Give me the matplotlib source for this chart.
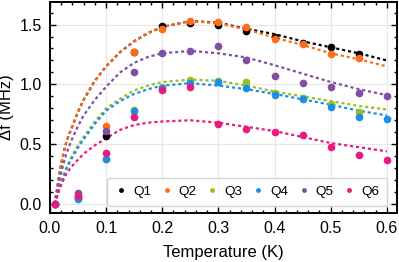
import matplotlib

matplotlib.use("Agg")

import matplotlib.pyplot as plt
import numpy as np
from matplotlib.ticker import MultipleLocator

plt.rcParams["font.family"] = ["Liberation Sans", "DejaVu Sans"]

# measured points
temps = [0.01, 0.05, 0.10, 0.15, 0.20, 0.25, 0.30, 0.35, 0.40, 0.45, 0.50, 0.55, 0.60]
nan = np.nan
q1 = [0.0, 0.05, 0.57, 1.27, 1.49, 1.51, 1.50, 1.45, 1.40, 1.35, 1.31, 1.25, nan]
q2 = [0.0, 0.07, 0.65, 1.27, 1.46, 1.53, 1.525, 1.48, 1.38, 1.34, 1.25, 1.22, nan]
q3 = [0.0, 0.06, 0.38, 0.79, 0.975, 1.04, 1.03, 1.02, 0.925, 0.89, 0.84, 0.77, nan]
q4 = [0.0, 0.045, 0.38, 0.78, 0.97, 1.01, 1.02, 0.97, 0.91, 0.875, 0.81, 0.73, 0.71]
q5 = [0.0, 0.09, 0.61, 1.10, 1.26, 1.28, 1.32, 1.20, 1.07, 1.01, 0.98, 0.93, 0.90]
q6 = [0.0, 0.07, 0.43, 0.73, 0.95, 0.98, 0.67, 0.63, 0.60, 0.58, 0.475, 0.41, 0.37]

# fitted curves
t_fit = [0.008, 0.012, 0.016, 0.02, 0.025, 0.03, 0.04, 0.05, 0.06, 0.08, 0.10,
         0.125, 0.15, 0.175, 0.20, 0.25, 0.30, 0.35, 0.40, 0.45, 0.50, 0.55, 0.60]
fit1 = [0.0, 0.10, 0.22, 0.33, 0.44, 0.53, 0.65, 0.77, 0.87, 1.03, 1.15,
        1.27, 1.36, 1.43, 1.48, 1.53, 1.515, 1.465, 1.42, 1.36, 1.31, 1.26, 1.20]
fit2 = [0.0, 0.10, 0.22, 0.33, 0.44, 0.53, 0.65, 0.77, 0.87, 1.03, 1.15,
        1.27, 1.36, 1.43, 1.48, 1.53, 1.51, 1.46, 1.39, 1.33, 1.26, 1.21, 1.15]
fit3 = [0.0, 0.06, 0.12, 0.18, 0.25, 0.31, 0.41, 0.49, 0.56, 0.69, 0.80,
        0.88, 0.95, 0.99, 1.02, 1.04, 1.03, 0.99, 0.94, 0.90, 0.86, 0.82, 0.79]
fit4 = [0.0, 0.05, 0.11, 0.17, 0.24, 0.30, 0.39, 0.47, 0.54, 0.67, 0.78,
        0.86, 0.92, 0.96, 0.99, 1.01, 0.99, 0.96, 0.92, 0.875, 0.83, 0.78, 0.74]
fit5 = [0.0, 0.08, 0.18, 0.26, 0.35, 0.43, 0.55, 0.65, 0.74, 0.87, 0.98,
        1.10, 1.18, 1.23, 1.26, 1.28, 1.26, 1.225, 1.16, 1.09, 1.02, 0.96, 0.91]
fit6 = [0.0, 0.05, 0.11, 0.16, 0.21, 0.26, 0.32, 0.37, 0.42, 0.49, 0.55,
        0.62, 0.66, 0.68, 0.69, 0.70, 0.68, 0.645, 0.61, 0.56, 0.51, 0.475, 0.44]

labels = ["Q1", "Q2", "Q3", "Q4", "Q5", "Q6"]
colors = ["#000000", "#ff6b18", "#94c11f", "#1b8fe6", "#7f4fa3", "#e8197f"]
points = [q1, q2, q3, q4, q5, q6]
fits = [fit1, fit2, fit3, fit4, fit5, fit6]

fig = plt.figure(figsize=(3.99, 2.62), dpi=100)
ax = fig.add_axes([0.125, 0.187, 0.87, 0.806])

for fit, col in zip(fits, colors):
    ax.plot(t_fit, fit, color=col, linestyle=(0, (1.4, 1.3)), linewidth=1.6)
for pts, col, lab in zip(points, colors, labels):
    ax.plot(temps, pts, "o", color=col, markersize=4.5, linestyle="none", label=lab)

ax.set_xlim(0, 0.618)
ax.set_ylim(-0.075, 1.69)
ax.xaxis.set_major_locator(MultipleLocator(0.1))
ax.xaxis.set_minor_locator(MultipleLocator(0.02))
ax.yaxis.set_major_locator(MultipleLocator(0.5))
ax.yaxis.set_minor_locator(MultipleLocator(0.1))
ax.tick_params(which="both", direction="in", top=True, right=True, labelsize=11.5, width=1.0)
ax.tick_params(which="major", length=4.5, pad=6)
ax.tick_params(which="minor", length=2.5)
for sp in ax.spines.values():
    sp.set_linewidth(1.4)
ax.grid(True, which="major", color="#e6e6e6", linewidth=0.8)
ax.set_axisbelow(True)

ax.set_xlabel("Temperature (K)", fontsize=12, labelpad=6)
ax.set_ylabel("Δf (MHz)", fontsize=12, labelpad=4)

ax.legend(loc="lower right", ncol=6, fontsize=9.7, markerscale=0.55,
          handlelength=0.8, handletextpad=0.5, columnspacing=0.75,
          borderpad=0.6, frameon=True, edgecolor="#cccccc", fancybox=True,
          bbox_to_anchor=(0.992, 0.0))

fig.savefig("out.png", dpi=100)
